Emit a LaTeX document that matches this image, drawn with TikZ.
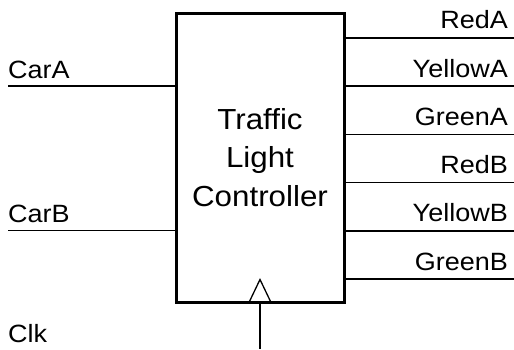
\documentclass[tikz,border=0pt]{standalone}
\usepackage{fontspec}
\setmainfont[FakeStretch=1.08]{Liberation Sans}
\begin{document}
\begin{tikzpicture}[x=1pt,y=-1pt,
  wire/.style={line width=1.6pt},
  lbl/.style={inner sep=0pt, font=\fontsize{25}{29}\selectfont},
  block/.style={draw, line width=3pt, minimum width=168pt, minimum height=289pt,
    inner sep=0pt, align=center, font=\fontsize{29}{38.5}\selectfont}]
\useasboundingbox (0,0) rectangle (514,349);
\node[block] (ctl) at (260,157.5) {Traffic\\Light\\Controller};
% inputs
\coordinate (carA) at (8,86);
\coordinate (carB) at (8,230.5);
\draw[wire] (carA) -- (carA -| ctl.west);
\draw[wire] (carB) -- (carB -| ctl.west);
\node[lbl, anchor=base west] (lcarA) at (8,78) {CarA};
\node[lbl, anchor=base west] (lcarB) at (8,222.5) {CarB};
\node[lbl, anchor=base west] (lclk) at (8,342) {Clk};
% outputs
\coordinate (oRedA) at (514,37.7);
\coordinate (oYellowA) at (514,86);
\coordinate (oGreenA) at (514,134.3);
\coordinate (oRedB) at (514,182.5);
\coordinate (oYellowB) at (514,230.8);
\coordinate (oGreenB) at (514,279);
\foreach \n in {RedA,YellowA,GreenA,RedB,YellowB,GreenB}{
  \draw[wire] (o\n -| ctl.east) -- (o\n);
  \node[lbl, anchor=base east] (l\n) at ([xshift=-6pt,yshift=9pt]o\n) {\n};
}
% clock
\coordinate (clkin) at (260,349);
\draw[wire] (ctl.south) -- (clkin);
\draw[line width=1.3pt, line join=miter] ([xshift=-11.5pt]ctl.south) -- ([yshift=24pt]ctl.south) -- ([xshift=11.5pt]ctl.south);
\end{tikzpicture}
\end{document}
